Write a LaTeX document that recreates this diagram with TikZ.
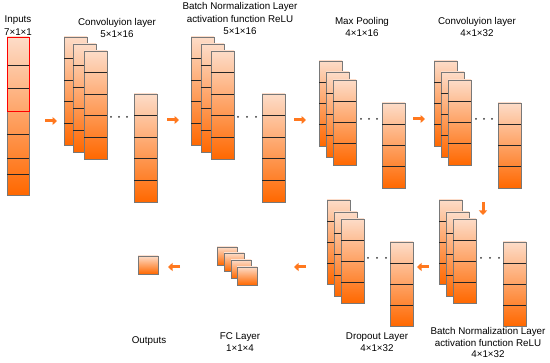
\documentclass[tikz,border=0pt]{standalone}
\usepackage{fontspec}
\setmainfont{Liberation Sans}
\usetikzlibrary{calc,arrows.meta}
\definecolor{peach}{RGB}{253,220,200}
\definecolor{midor}{RGB}{255,126,38}
\definecolor{deepor}{RGB}{255,104,0}
\definecolor{arrowor}{RGB}{255,120,30}
\definecolor{rim}{RGB}{120,120,120}
\tikzset{
  cellcol/.style={draw=rim, line width=0.8pt, inner sep=0pt, outer sep=0pt,
    top color=peach, middle color=midor, bottom color=deepor},
  cellline/.style={draw=black!85, line width=0.8pt},
  lbl/.style={inner sep=0pt, font=\fontsize{9.8}{11}\selectfont, align=center},
  flow/.style={draw=arrowor, line width=3pt, -{Triangle[length=4.5pt,width=8pt]}},
  dotm/.style={fill=black!80},
}
\newcommand\mycol[6]{%
  \node[cellcol, minimum width=#4pt, minimum height=#5pt, anchor=north west] (#1) at (#2,#3) {};
  \pgfmathtruncatemacro\mylast{#6-1}%
  \ifnum\mylast>0
  \foreach \k in {1,...,\mylast}{\draw[cellline] ($(#1.north west)!\k/#6!(#1.south west)$) -- ($(#1.north east)!\k/#6!(#1.south east)$);}%
  \fi
}
\newcommand\threedots[4]{%
  \fill[dotm] (#1,#4) circle (1pt);
  \fill[dotm] (#2,#4) circle (1pt);
  \fill[dotm] (#3,#4) circle (1pt);
}
\begin{document}
\begin{tikzpicture}[x=1pt,y=-1pt]
\useasboundingbox (0,0) rectangle (550,363);
% Inputs
\node[cellcol, minimum width=22pt, minimum height=158pt, anchor=north west] (in) at (7,37) {};
\foreach \yy in {65,88,111,134,158,174}{\draw[cellline] (in.west |- 0,\yy) -- (in.east |- 0,\yy);}
\draw[red, line width=0.9pt] (in.north west) rectangle (in.east |- 0,111);
\node[lbl] (tin) at (18,20) {Inputs};
\node[lbl] (tin2) at (18,32) {7×1×1};
% Conv 1
\mycol{c1a}{64}{37}{23}{108}{5}
\mycol{c1b}{73}{44}{23}{108}{5}
\mycol{c1c}{84}{51}{23}{108}{5}
\mycol{c1d}{134}{94}{23}{108}{5}
\threedots{111}{119}{127}{117}
\node[lbl] (tc1) at (117,23) {Convoluyion layer};
\node[lbl] (tc1b) at (117,34) {5×1×16};
% BN 1
\mycol{b1a}{191}{37}{23}{108}{5}
\mycol{b1b}{201}{44}{23}{108}{5}
\mycol{b1c}{211}{51}{23}{108}{5}
\mycol{b1d}{262}{94}{23}{108}{5}
\threedots{238}{247}{256}{117}
\node[lbl] (tb1) at (240,7) {Batch Normalization Layer};
\node[lbl] (tb1b) at (240,19) {activation function ReLU};
\node[lbl] (tb1c) at (240,31) {5×1×16};
% Max pooling
\mycol{m1a}{319}{61}{23}{85}{4}
\mycol{m1b}{326}{72}{23}{85}{4}
\mycol{m1c}{333}{80}{23}{85}{4}
\mycol{m1d}{382}{103}{23}{85}{4}
\threedots{361}{369}{377}{119}
\node[lbl] (tm1) at (362,22) {Max Pooling};
\node[lbl] (tm1b) at (362,33) {4×1×16};
% Conv 2
\mycol{c2a}{434}{61}{23}{85}{4}
\mycol{c2b}{441}{72}{23}{85}{4}
\mycol{c2c}{448}{80}{23}{85}{4}
\mycol{c2d}{498}{103}{23}{85}{4}
\threedots{476}{484}{492}{119}
\node[lbl] (tc2) at (477,22) {Convoluyion layer};
\node[lbl] (tc2b) at (477,33) {4×1×32};
% BN 2
\mycol{b2a}{439}{200}{23}{84}{4}
\mycol{b2b}{446}{212}{23}{84}{4}
\mycol{b2c}{453}{219}{23}{84}{4}
\mycol{b2d}{503}{242}{23}{84}{4}
\threedots{481}{490}{499}{258}
\node[lbl] (tb2) at (488,332) {Batch Normalization Layer};
\node[lbl] (tb2b) at (488,343) {activation function ReLU};
\node[lbl] (tb2c) at (488,354) {4×1×32};
% Dropout
\mycol{d1a}{327}{200}{23}{84}{4}
\mycol{d1b}{334}{212}{23}{84}{4}
\mycol{d1c}{341}{219}{23}{84}{4}
\mycol{d1d}{390}{242}{23}{84}{4}
\threedots{368}{377}{386}{258}
\node[lbl] (td1) at (377,337) {Dropout Layer};
\node[lbl] (td1b) at (377,348) {4×1×32};
% FC
\mycol{f1}{217}{247}{20}{18}{1}
\mycol{f2}{224}{253}{20}{18}{1}
\mycol{f3}{231}{260}{20}{18}{1}
\mycol{f4}{237}{267}{20}{18}{1}
\node[lbl] (tf1) at (240,337) {FC Layer};
\node[lbl] (tf1b) at (240,348) {1×1×4};
% Output
\mycol{out}{138}{256}{20}{18}{1}
\node[lbl] (tout) at (149,341) {Outputs};
% Arrows
\coordinate (a1s) at (45,121); \coordinate (a1e) at (57,121);
\coordinate (a2s) at (167,120); \coordinate (a2e) at (179,120);
\coordinate (a3s) at (294,120); \coordinate (a3e) at (306,120);
\coordinate (a4s) at (413,119); \coordinate (a4e) at (425,119);
\coordinate (a5s) at (483,202); \coordinate (a5e) at (483,215);
\coordinate (a6s) at (429,267); \coordinate (a6e) at (417,267);
\coordinate (a7s) at (306,267); \coordinate (a7e) at (294,267);
\coordinate (a8s) at (180,267); \coordinate (a8e) at (168,267);
\foreach \i in {1,...,8}{\draw[flow] (a\i s) -- (a\i e);}
\end{tikzpicture}
\end{document}
